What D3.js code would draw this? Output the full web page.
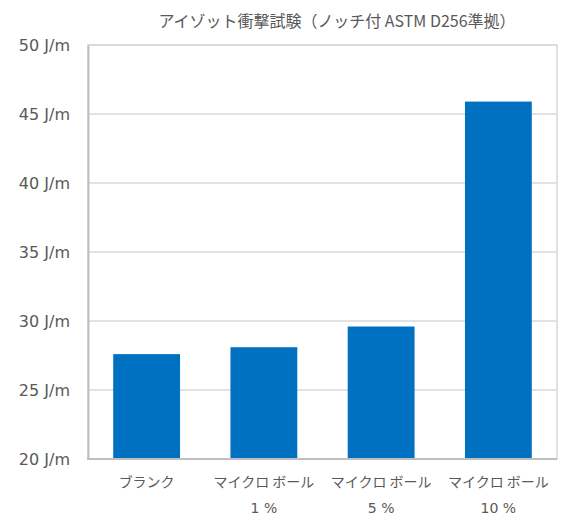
<!DOCTYPE html>
<html>
<head>
<meta charset="utf-8">
<script src="https://cdn.jsdelivr.net/npm/d3@7"></script>
<style>
  body { margin: 0; background: #fff; }
  text { fill: #595959; }
</style>
</head>
<body>
<svg width="561" height="515"></svg>
<script>
const categories = ["ブランク", "マイクロ ボール", "マイクロ ボール", "マイクロ ボール"]
const subLabels  = ["", "1 %", "5 %", "10 %"]
const values     = [27.6, 28.1, 29.6, 45.9]
const yTicks     = [20, 25, 30, 35, 40, 45, 50]
const title      = "アイゾット衝撃試験（ノッチ付 ASTM D256準拠）"

const svg = d3.select("svg"),
      plotLeft = 88, plotRight = 557, plotTop = 45, plotBottom = 459

const x = d3.scaleBand()
  .domain(d3.range(values.length))
  .range([plotLeft, plotRight])
  .paddingInner(0.43)
  .paddingOuter(0.215)

const y = d3.scaleLinear()
  .domain([20, 50])
  .range([plotBottom, plotTop])

// gridlines
svg.append("g")
  .selectAll("line")
  .data(yTicks)
  .enter().append("line")
    .attr("x1", plotLeft)
    .attr("x2", plotRight)
    .attr("y1", d => y(d))
    .attr("y2", d => y(d))
    .style("stroke", "#d9d9d9")
    .style("stroke-width", 1.5)

// plot frame
svg.append("rect")
  .attr("x", plotLeft).attr("y", plotTop)
  .attr("width", plotRight - plotLeft).attr("height", plotBottom - plotTop)
  .style("fill", "none")
  .style("stroke", "#d9d9d9")
  .style("stroke-width", 1.5)

// bars
svg.append("g")
  .selectAll("rect")
  .data(values)
  .enter().append("rect")
    .attr("x", (d, i) => x(i))
    .attr("width", x.bandwidth())
    .attr("y", d => y(d))
    .attr("height", d => y(20) - y(d))
    .style("fill", "#0070c0")

// axis lines
const yAxis = svg.append("g")
  .attr("transform", `translate(${plotLeft},0)`)
  .call(d3.axisLeft(y).tickValues(yTicks).tickSize(0).tickPadding(18)
    .tickFormat(d => d + " J/m"))
yAxis.select(".domain").style("stroke", "#bfbfbf").style("stroke-width", 2)
yAxis.selectAll("text")
  .style("font-family", "'DejaVu Sans', Verdana, sans-serif")
  .style("font-size", "16px")
  .style("fill", "#595959")

svg.append("line")
  .attr("x1", plotLeft - 1).attr("x2", plotRight)
  .attr("y1", plotBottom).attr("y2", plotBottom)
  .style("stroke", "#bfbfbf")
  .style("stroke-width", 2)

// category labels
const labels = svg.append("g")
  .selectAll("g")
  .data(categories)
  .enter().append("g")
    .attr("transform", (d, i) => `translate(${x(i) + x.bandwidth() / 2},0)`)

labels.append("text")
  .attr("y", 487)
  .attr("text-anchor", "middle")
  .style("font-family", "'Noto Sans CJK JP', sans-serif")
  .style("font-size", "14px")
  .text(d => d)

labels.append("text")
  .attr("y", 513)
  .attr("text-anchor", "middle")
  .style("font-family", "'DejaVu Sans', Verdana, sans-serif")
  .style("font-size", "14px")
  .text((d, i) => subLabels[i])

// title
svg.append("text")
  .attr("x", 337)
  .attr("y", 27)
  .attr("text-anchor", "middle")
  .style("font-family", "'Noto Sans CJK JP', sans-serif")
  .style("font-size", "16px")
  .text(title)
</script>
</body>
</html>
